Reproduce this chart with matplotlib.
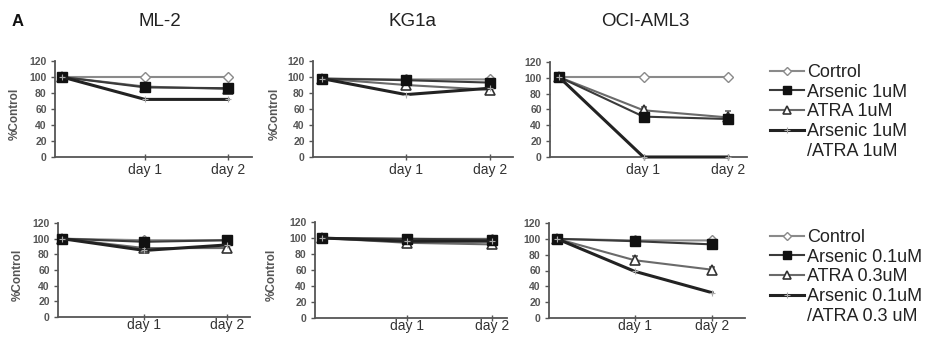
import matplotlib
matplotlib.use("Agg")
import matplotlib.pyplot as plt
from matplotlib.lines import Line2D

plt.rcParams['font.family'] = ['Liberation Sans', 'DejaVu Sans']

W, H = 926, 337
days = [0, 1, 2]
day_labels = ["", "day 1", "day 2"]
cell_lines = ["ML-2", "KG1a", "OCI-AML3"]

# Top row (high dose)
top_control = {"ML-2": [100, 100, 100], "KG1a": [98, 97, 97], "OCI-AML3": [101, 101, 101]}
top_arsenic = {"ML-2": [100, 87, 86], "KG1a": [98, 96, 93], "OCI-AML3": [101, 51, 48]}
top_atra = {"ML-2": [100, 88, 85], "KG1a": [98, 90, 84], "OCI-AML3": [101, 59, 50]}
top_combo = {"ML-2": [100, 72, 72], "KG1a": [98, 78, 86], "OCI-AML3": [101, 0, 0]}
top_atra_err = {"ML-2": [0, 0, 0], "KG1a": [0, 0, 0], "OCI-AML3": [0, 4, 8]}

# Bottom row (low dose)
bot_control = {"ML-2": [100, 98, 98], "KG1a": [100, 99, 99], "OCI-AML3": [100, 98, 98]}
bot_arsenic = {"ML-2": [100, 96, 98], "KG1a": [100, 99, 98], "OCI-AML3": [100, 97, 93]}
bot_atra = {"ML-2": [100, 88, 88], "KG1a": [100, 94, 92], "OCI-AML3": [100, 73, 61]}
bot_combo = {"ML-2": [100, 85, 92], "KG1a": [100, 96, 96], "OCI-AML3": [100, 59, 32]}
bot_atra_err = {"ML-2": [0, 0, 0], "KG1a": [0, 0, 0], "OCI-AML3": [0, 5, 4]}

top_legend = ["Cortrol", "Arsenic 1uM", "ATRA 1uM", "Arsenic 1uM", "/ATRA 1uM"]
bot_legend = ["Control", "Arsenic 0.1uM", "ATRA 0.3uM", "Arsenic 0.1uM", "/ATRA 0.3 uM"]

fig = plt.figure(figsize=(W / 100, H / 100), dpi=100)

# layout in pixels: x0, x1, p0(day0 px), p2(day2 px), ytop(120), ybot(0)
layout_top = {"ML-2": (55, 252, 62, 228, 61, 157),
              "KG1a": (313, 513, 322, 490, 61, 157),
              "OCI-AML3": (550, 747, 559, 728, 62, 157)}
layout_bot = {"ML-2": (58, 250, 62, 227, 223, 317),
              "KG1a": (315, 507, 322, 492, 222, 318),
              "OCI-AML3": (549, 745, 557, 712, 223, 318)}

styles = {
    "control": dict(color="#8a8a8a", lw=1.5, marker="D", ms=5.5, mfc="white", mec="#8a8a8a", mew=1.0, zorder=2),
    "arsenic": dict(color="#3a3a3a", lw=1.5, marker="s", ms=7, mfc="#111111", mec="#111111", zorder=4),
    "atra": dict(color="#6a6a6a", lw=1.5, marker="^", ms=7.5, mfc="white", mec="#333333", mew=1.2, zorder=3),
    "combo": dict(color="#222222", lw=2.2, marker="+", ms=5, mec="#aaaaaa", mew=0.8, zorder=5),
}

text_col = "#333333"


def make_panel(lay, ctrl, ars, atra, combo, atra_err, pad, ylabel_x):
    x0, x1, p0, p2, ytop, ybot = lay
    ax = fig.add_axes([x0 / W, 1 - ybot / H, (x1 - x0) / W, (ybot - ytop) / H])
    s = (p2 - p0) / 2.0
    ax.plot(days, ctrl, **styles["control"])
    ax.plot(days, combo, **styles["combo"])
    ax.errorbar(days, atra, yerr=[[0] * 3, atra_err], ecolor="#666666", elinewidth=1,
                capsize=2.5, capthick=1, **styles["atra"])
    ax.plot(days, ars, **styles["arsenic"])
    ax.set_xlim((x0 - p0) / s, (x1 - p0) / s)
    ax.set_ylim(0, 120)
    ax.set_yticks(range(0, 121, 20))
    ax.set_xticks([1, 2])
    ax.set_xticklabels(day_labels[1:], fontsize=10, color=text_col)
    for lab in ax.get_yticklabels():
        lab.set_fontsize(7.5)
        lab.set_fontweight("bold")
        lab.set_color("#555555")
    ax.tick_params(axis="y", direction="out", length=3, width=1, colors="#555555", pad=3)
    ax.tick_params(axis="x", direction="inout", length=5, width=1, colors="#555555", pad=pad)
    for lab in ax.get_xticklabels():
        lab.set_color(text_col)
    for sp in ["top", "right"]:
        ax.spines[sp].set_visible(False)
    for sp in ["left", "bottom"]:
        ax.spines[sp].set_color("#555555")
        ax.spines[sp].set_linewidth(1.3)
    ax.patch.set_alpha(0)
    for ln in ax.lines:
        ln.set_clip_on(False)
    if ylabel_x is not None:
        fig.text(ylabel_x / W, 1 - ((ytop + ybot) / 2 + 5) / H, "%Control", rotation=90,
                 fontsize=8.5, color="#555555", fontweight="bold", ha="center", va="center")
    return ax


ylab_top = {"ML-2": 15, "KG1a": 275, "OCI-AML3": None}
ylab_bot = {"ML-2": 18, "KG1a": 272, "OCI-AML3": None}
for cl in cell_lines:
    make_panel(layout_top[cl], top_control[cl], top_arsenic[cl], top_atra[cl], top_combo[cl],
               top_atra_err[cl], 1.5, ylab_top[cl])
    make_panel(layout_bot[cl], bot_control[cl], bot_arsenic[cl], bot_atra[cl], bot_combo[cl],
               bot_atra_err[cl], -1.5, ylab_bot[cl])

title_x = {"ML-2": 160, "KG1a": 413, "OCI-AML3": 645}
for cl in cell_lines:
    fig.text(title_x[cl] / W, 1 - 22 / H, cl, fontsize=13.5, color="#222222", ha="center", va="center")
fig.text(18 / W, 1 - 22 / H, "A", fontsize=12, fontweight="bold", color="#111111", ha="center", va="center")


def legend_handles():
    keys = ["control", "arsenic", "atra", "combo"]
    hs = []
    for k in keys:
        st = dict(styles[k])
        st.pop("zorder", None)
        st["ms"] = st["ms"] * 0.75
        hs.append(Line2D([0], [0], **st))
    hs.append(Line2D([0], [0], linestyle="none", marker="none"))
    return hs


for labels, ytop_px in [(top_legend, 64), (bot_legend, 229)]:
    leg = fig.legend(legend_handles(), labels, loc="upper left",
                     bbox_to_anchor=(770 / W, 1 - ytop_px / H), frameon=False,
                     fontsize=13, handlelength=1.9, handletextpad=0.15, labelspacing=0.15,
                     borderpad=0, borderaxespad=0, numpoints=1)
    for t in leg.get_texts():
        t.set_color("#222222")

fig.savefig("out.png", dpi=100)
